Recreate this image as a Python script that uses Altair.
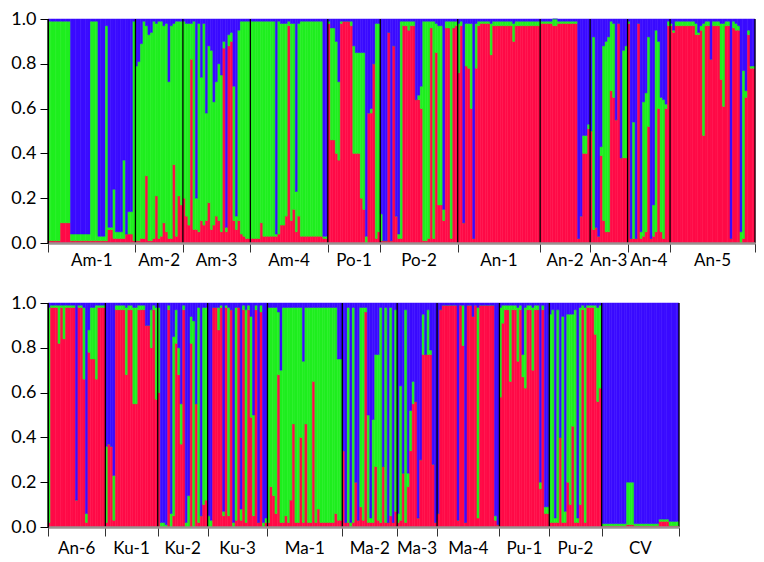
import altair as alt
import pandas as pd

# ---------------- data: (red, green) per individual; blue = remainder ----------------
TOP_POPS = ["Am-1", "Am-2", "Am-3", "Am-4", "Po-1", "Po-2", "An-1", "An-2", "An-3", "An-4", "An-5"]
BOT_POPS = ["An-6", "Ku-1", "Ku-2", "Ku-3", "Ma-1", "Ma-2", "Ma-3", "Ma-4", "Pu-1", "Pu-2", "CV"]

AM1 = ([(0.01, 0.98)] * 5 + [(0.09, 0.90)] * 4 + [(0.01, 0.03)] * 8 + [(0.01, 0.98)] * 3
       + [(0.01, 0.02)] * 3 + [(0.01, 0.96)] + [(0.06, 0.01)] * 2 + [(0.02, 0.22)]
       + [(0.02, 0.03)] * 3 + [(0.02, 0.35)] + [(0.04, 0.0)] + [(0.04, 0.10)] * 2 + [(0.01, 0.98)])
AM2 = [(0.01, 0.78), (0.01, 0.80), (0.02, 0.87), (0.02, 0.97), (0.30, 0.67), (0.01, 0.92),
       (0.01, 0.93), (0.02, 0.97), (0.21, 0.77), (0.02, 0.97), (0.03, 0.96), (0.09, 0.88),
       (0.05, 0.93), (0.02, 0.70), (0.02, 0.95), (0.35, 0.63), (0.03, 0.96), (0.21, 0.78),
       (0.17, 0.82)]
AM3 = [(0.20, 0.79), (0.12, 0.86), (0.08, 0.90), (0.82, 0.16), (0.06, 0.93), (0.06, 0.14),
       (0.05, 0.93), (0.10, 0.64), (0.08, 0.90), (0.10, 0.48), (0.18, 0.70), (0.06, 0.80),
       (0.08, 0.55), (0.12, 0.60), (0.10, 0.70), (0.05, 0.70), (0.87, 0.03), (0.05, 0.02),
       (0.88, 0.05), (0.90, 0.04), (0.10, 0.60), (0.06, 0.06), (0.10, 0.85), (0.04, 0.95),
       (0.03, 0.96), (0.02, 0.97), (0.02, 0.97)]
AM4 = ([(0.02, 0.97)] * 4 + [(0.09, 0.90)] + [(0.03, 0.96)] * 5 + [(0.03, 0.01)] + [(0.04, 0.95)]
       + [(0.08, 0.90)] * 2 + [(0.12, 0.86)] + [(0.97, 0.02)] + [(0.10, 0.88)] + [(0.15, 0.83)]
       + [(0.05, 0.18)] + [(0.12, 0.86)] + [(0.03, 0.96)] * 9 + [(0.02, 0.01)] * 2)
PO1 = [(0.98, 0.01), (0.46, 0.50), (0.46, 0.50), (0.40, 0.50), (0.37, 0.35), (0.98, 0.01),
       (0.99, 0.0), (0.99, 0.0), (0.99, 0.0), (0.97, 0.02), (0.40, 0.48), (0.40, 0.45),
       (0.40, 0.45), (0.20, 0.65), (0.15, 0.70), (0.0, 0.03), (0.58, 0.0), (0.58, 0.02),
       (0.80, 0.0), (0.02, 0.96), (0.05, 0.93)]
PO2 = [(0.01, 0.12), (0.01, 0.0), (0.01, 0.0), (0.94, 0.0), (0.01, 0.0), (0.88, 0.0),
       (0.12, 0.0), (0.02, 0.02), (0.02, 0.97), (0.97, 0.02), (0.97, 0.02), (0.95, 0.04),
       (0.97, 0.02), (0.97, 0.02), (0.64, 0.0), (0.64, 0.02), (0.60, 0.10), (0.01, 0.98),
       (0.01, 0.98), (0.02, 0.97), (0.96, 0.03), (0.02, 0.97), (0.85, 0.13), (0.17, 0.80),
       (0.17, 0.80), (0.10, 0.05), (0.96, 0.03), (0.96, 0.03), (0.02, 0.97), (0.96, 0.03),
       (0.97, 0.02)]
AN1 = ([(0.76, 0.22), (0.97, 0.02), (0.09, 0.0), (0.79, 0.19), (0.78, 0.20), (0.60, 0.38),
        (0.02, 0.0), (0.78, 0.20), (0.97, 0.02)] + [(0.98, 0.01)] * 4 + [(0.84, 0.14)]
       + [(0.97, 0.02)] * 8 + [(0.90, 0.08)] + [(0.97, 0.02)] * 10)
AN2 = ([(0.98, 0.01)] * 5 + [(0.97, 0.03)] * 2 + [(0.98, 0.01)] * 8
       + [(0.02, 0.0), (0.12, 0.0), (0.40, 0.08), (0.40, 0.08), (0.51, 0.02)])
AN3 = [(0.50, 0.0), (0.06, 0.86), (0.07, 0.0), (0.03, 0.0), (0.39, 0.04), (0.10, 0.78),
       (0.05, 0.85), (0.05, 0.87), (0.68, 0.31), (0.65, 0.33), (0.55, 0.0), (0.98, 0.0),
       (0.38, 0.0), (0.38, 0.48), (0.38, 0.50)]
AN4 = [(0.98, 0.01), (0.02, 0.0), (0.02, 0.52), (0.02, 0.0), (0.98, 0.0), (0.02, 0.03),
       (0.03, 0.60), (0.05, 0.62), (0.52, 0.40), (0.02, 0.0), (0.03, 0.14), (0.05, 0.90),
       (0.60, 0.30), (0.05, 0.60), (0.02, 0.62), (0.60, 0.02), (0.97, 0.02)]
AN5 = ([(0.97, 0.01), (0.94, 0.01), (0.97, 0.02)] + [(0.97, 0.02)] * 7
       + [(0.93, 0.05), (0.93, 0.01), (0.95, 0.02), (0.48, 0.50), (0.97, 0.02), (0.97, 0.02),
          (0.82, 0.0)] + [(0.97, 0.02)] * 3
       + [(0.73, 0.25), (0.61, 0.37), (0.97, 0.02), (0.97, 0.02), (0.02, 0.0), (0.96, 0.03),
          (0.95, 0.03), (0.95, 0.02), (0.0, 0.05), (0.02, 0.75), (0.65, 0.03), (0.93, 0.02),
          (0.78, 0.01), (0.78, 0.01)])

AN6 = ([(0.02, 0.96), (0.98, 0.01), (0.98, 0.01), (0.98, 0.01), (0.82, 0.17), (0.98, 0.01),
        (0.84, 0.15)] + [(0.98, 0.01)] * 4
       + [(0.12, 0.0), (0.98, 0.01), (0.98, 0.01), (0.66, 0.32), (0.02, 0.04), (0.78, 0.10),
          (0.75, 0.23), (0.75, 0.23), (0.66, 0.33)] + [(0.98, 0.01)] * 3)
KU1 = ([(0.02, 0.34), (0.37, 0.0), (0.36, 0.0), (0.03, 0.20)] + [(0.97, 0.02)] * 4
       + [(0.68, 0.30), (0.97, 0.02), (0.97, 0.02), (0.55, 0.43), (0.55, 0.43)]
       + [(0.97, 0.02)] * 3 + [(0.90, 0.0), (0.90, 0.0), (0.80, 0.17), (0.97, 0.02), (0.57, 0.41)])
KU2 = [(0.60, 0.38), (0.0, 0.02), (0.0, 0.02), (0.0, 0.01), (0.97, 0.02), (0.0, 0.06),
       (0.05, 0.80), (0.82, 0.15), (0.68, 0.12), (0.37, 0.18), (0.97, 0.02), (0.0, 0.02),
       (0.0, 0.14), (0.82, 0.12), (0.0, 0.92), (0.55, 0.0), (0.02, 0.96), (0.05, 0.0),
       (0.10, 0.88), (0.12, 0.86)]
KU3 = [(0.0, 0.05), (0.0, 0.03), (0.98, 0.0), (0.98, 0.0), (0.88, 0.10), (0.98, 0.01),
       (0.05, 0.02), (0.98, 0.01), (0.05, 0.93), (0.97, 0.0), (0.0, 0.02), (0.03, 0.95),
       (0.98, 0.0), (0.03, 0.05), (0.97, 0.02), (0.02, 0.95), (0.97, 0.02), (0.49, 0.45),
       (0.05, 0.45), (0.97, 0.02), (0.02, 0.0), (0.96, 0.03), (0.0, 0.02), (0.02, 0.02)]
MA1 = ([(0.02, 0.96), (0.18, 0.80), (0.14, 0.84), (0.06, 0.92), (0.68, 0.28), (0.02, 0.68),
        (0.02, 0.96), (0.05, 0.93), (0.02, 0.96), (0.12, 0.86), (0.46, 0.52), (0.02, 0.96),
        (0.02, 0.96), (0.40, 0.58), (0.02, 0.72), (0.46, 0.52), (0.02, 0.96), (0.02, 0.96),
        (0.65, 0.33), (0.02, 0.96), (0.08, 0.90)] + [(0.02, 0.96)] * 6
       + [(0.06, 0.92), (0.03, 0.72), (0.03, 0.72)])
MA2 = [(0.34, 0.0), (0.02, 0.0), (0.02, 0.96), (0.0, 0.02), (0.02, 0.96), (0.20, 0.0),
       (0.03, 0.0), (0.09, 0.89), (0.03, 0.95), (0.96, 0.02), (0.02, 0.48), (0.02, 0.02),
       (0.02, 0.46), (0.27, 0.50), (0.03, 0.74), (0.02, 0.96), (0.27, 0.0), (0.02, 0.96),
       (0.02, 0.0), (0.05, 0.93), (0.02, 0.0), (0.07, 0.90)]
MA3 = [(0.02, 0.04), (0.03, 0.60), (0.24, 0.0), (0.02, 0.95), (0.18, 0.06), (0.34, 0.18),
       (0.55, 0.10), (0.56, 0.0), (0.04, 0.0), (0.30, 0.0), (0.77, 0.18), (0.77, 0.0),
       (0.77, 0.20), (0.77, 0.02), (0.28, 0.0), (0.02, 0.0)]
MA4 = ([(0.06, 0.0), (0.97, 0.0)] + [(0.99, 0.0)] * 6
       + [(0.03, 0.0), (0.99, 0.0), (0.81, 0.18), (0.02, 0.0), (0.99, 0.0), (0.99, 0.0),
          (0.94, 0.0), (0.99, 0.0), (0.04, 0.94)] + [(0.99, 0.0)] * 6 + [(0.03, 0.02), (0.01, 0.0)])
PU1 = [(0.58, 0.40), (0.91, 0.08), (0.97, 0.02), (0.97, 0.02), (0.65, 0.34), (0.97, 0.02),
       (0.97, 0.02), (0.74, 0.24), (0.97, 0.02), (0.67, 0.10), (0.62, 0.36), (0.97, 0.02),
       (0.97, 0.02), (0.70, 0.28), (0.97, 0.02), (0.97, 0.02), (0.17, 0.03), (0.97, 0.02),
       (0.06, 0.03), (0.06, 0.03)]
PU2 = [(0.02, 0.93), (0.02, 0.95), (0.02, 0.02), (0.02, 0.95), (0.40, 0.0), (0.02, 0.92),
       (0.02, 0.05), (0.20, 0.75), (0.10, 0.85), (0.45, 0.50), (0.02, 0.95), (0.02, 0.02),
       (0.10, 0.88), (0.97, 0.02), (0.02, 0.96), (0.98, 0.01), (0.98, 0.01), (0.98, 0.01),
       (0.86, 0.13), (0.56, 0.42), (0.62, 0.37)]
CV = ([(0.005, 0.01)] * 10 + [(0.01, 0.19)] * 3 + [(0.005, 0.01)] * 10
      + [(0.025, 0.01)] * 4 + [(0.005, 0.02)] * 4)

TOP_DATA = [AM1, AM2, AM3, AM4, PO1, PO2, AN1, AN2, AN3, AN4, AN5]
BOT_DATA = [AN6, KU1, KU2, KU3, MA1, MA2, MA3, MA4, PU1, PU2, CV]

Y_TICKS = [0.0, 0.2, 0.4, 0.6, 0.8, 1.0]
CLUSTERS = ["red", "green", "blue"]
COLORS = ["#FF0A47", "#1FEE1F", "#3A0BFF"]

PANEL_H = 224


def build(pops, data):
    rows, labels, bounds = [], [], [0]
    i = 0
    for name, inds in zip(pops, data):
        start = i
        for r, g in inds:
            b = max(0.0, 1.0 - r - g)
            y0 = 0.0
            for cl, v in zip(CLUSTERS, (r, g, b)):
                rows.append({"i": i, "i2": i + 1, "c": cl, "y0": y0, "y1": min(1.0, y0 + v)})
                y0 += v
            i += 1
        labels.append({"pop": name, "mid": (start + i) / 2})
        bounds.append(i)
    return pd.DataFrame(rows), pd.DataFrame(labels), pd.DataFrame({"b": bounds}), i


def panel(pops, data, width, label_y):
    df, lab, bnd, n = build(pops, data)
    cscale = alt.Scale(domain=CLUSTERS, range=COLORS)
    x = alt.X("i:Q", scale=alt.Scale(domain=[0, n], nice=False, zero=False),
              axis=alt.Axis(values=list(bnd["b"]), labels=False, title=None, grid=False,
                            tickSize=9, tickColor="#333333", tickWidth=1,
                            domainColor="#9a9090", domainWidth=2.5, zindex=1))
    y = alt.Y("y0:Q", scale=alt.Scale(domain=[0, 1], nice=False, zero=True),
              axis=alt.Axis(values=Y_TICKS, format=".1f", title=None, grid=False,
                            tickSize=8, tickColor="black", domainColor="black",
                            labelFont="Lato", labelFontSize=18, labelColor="black",
                            labelPadding=4, zindex=1))
    bars = alt.Chart(df).mark_rect(strokeWidth=0.5).encode(
        x=x, x2="i2:Q", y=y, y2="y1:Q",
        color=alt.Color("c:N", scale=cscale, legend=None),
        stroke=alt.Stroke("c:N", scale=cscale, legend=None),
    )
    rules = alt.Chart(bnd).mark_rule(color="black", strokeWidth=1.3).encode(x="b:Q")
    text = alt.Chart(lab).mark_text(font="Lato", fontSize=17, color="black",
                                    baseline="middle").encode(
        x="mid:Q", y=alt.value(label_y), text="pop:N")
    return alt.layer(bars, rules, text).properties(width=width, height=PANEL_H)


top = panel(TOP_POPS, TOP_DATA, 707, PANEL_H + 18)
bottom = panel(BOT_POPS, BOT_DATA, 631, PANEL_H + 22)

chart = (alt.vconcat(top, bottom, spacing=25)
         .properties(padding={"left": 2, "top": 2, "right": 0, "bottom": 0})
         .configure_view(strokeWidth=0))

chart.save("out.html", embed_options={"renderer": "svg", "actions": False})
